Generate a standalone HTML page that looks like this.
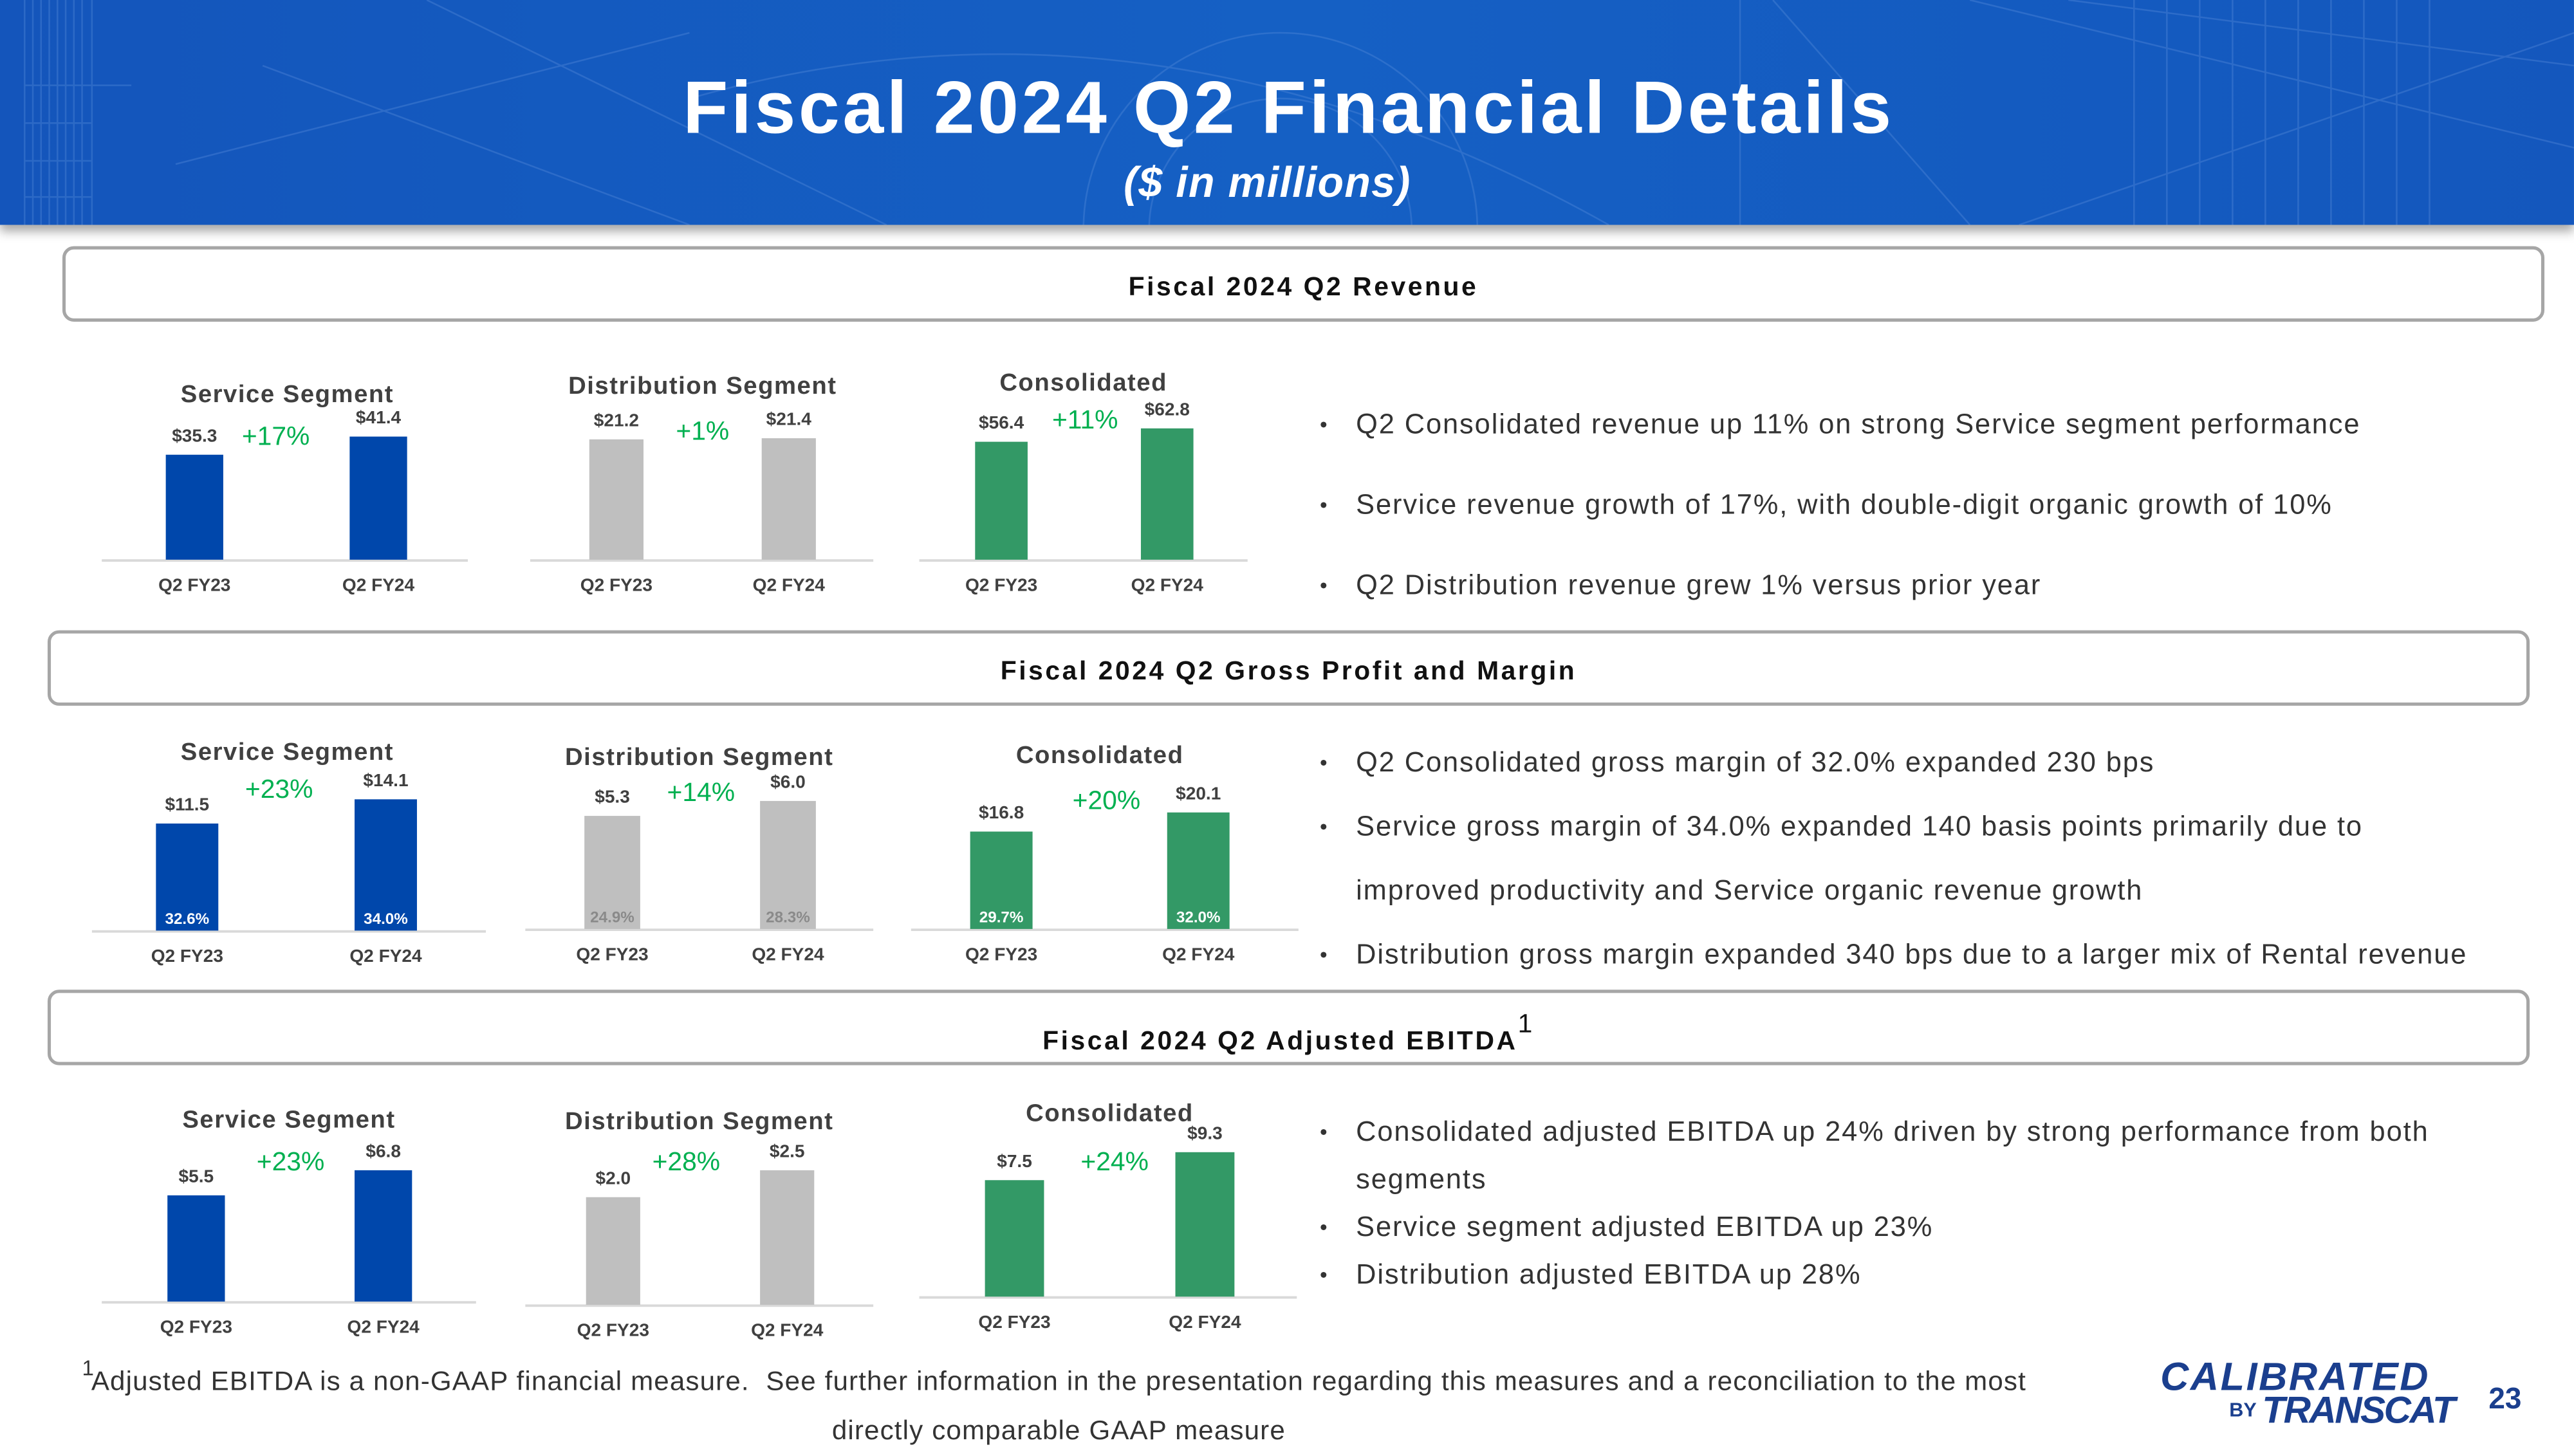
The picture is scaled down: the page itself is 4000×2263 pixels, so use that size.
<!DOCTYPE html>
<html><head><meta charset="utf-8"><style>
html,body{margin:0;padding:0;width:4000px;height:2250px;overflow:hidden;background:#fff}
#s{position:absolute;left:0;top:0;width:1568px;height:882px;transform:scale(2.5510);transform-origin:0 0;font-family:"Liberation Sans",sans-serif;color:#3a3a3a}
.abs{position:absolute}
.box{position:absolute;border:2px solid #a6a6a6;border-radius:7px;background:#fff;box-sizing:border-box;text-align:center;font-weight:bold;font-size:16px;color:#111;letter-spacing:1.4px}
.bul{position:absolute;font-size:17px;letter-spacing:0.75px;color:#333;white-space:nowrap}
.bul:before{content:"•";position:absolute;left:-22px;font-size:13px;top:2px}
.bul.nb:before{content:none}
</style></head><body>
<div id="s">
<div class="abs" style="left:0;top:0;width:1568px;height:137px;background:linear-gradient(90deg,#1455bb,#1560c4 50%,#1457bd);box-shadow:0 4px 6px rgba(0,0,0,.35)">
<svg width="1568" height="137" style="position:absolute;left:0;top:0">
<g stroke="#5b8fdc" stroke-width="1" opacity=".35" fill="none">
<path d="M15 0V137M20 0V137M25 0V137M30 0V137M35 0V137M40 0V137M45 0V137M50 0V137M56 0V137"/>
<path d="M15 52H80M15 75H56M15 98H56M15 120H56"/>
<path d="M107 100L420 20M160 40L420 137M260 0L540 137M420 60Q700 -20 980 137"/>
<path d="M1060 0V137M1080 0L1200 137M1200 0L1568 90M1260 0L1568 40M1230 137L1568 20M1300 0V137M1320 0V137M1340 0V137M1360 0V137M1380 0V137M1400 0V137M1420 0V137M1440 0V137M1460 0V137M1480 0V137"/>
<circle cx="780" cy="140" r="120"/><circle cx="780" cy="140" r="80"/>
</g></svg>
<div class="abs" style="left:0;width:1570px;top:40px;text-align:center;color:#fff;font-weight:bold;font-size:45px;letter-spacing:1.8px">Fiscal 2024 Q2 Financial Details</div>
<div class="abs" style="left:0;width:1544px;top:96px;text-align:center;color:#fff;font-weight:bold;font-style:italic;font-size:26px;letter-spacing:0.5px">($ in millions)</div>
</div>

<div class="box" style="left:38px;top:150px;width:1512px;height:46px;line-height:48px">Fiscal 2024 Q2 Revenue</div>
<div class="box" style="left:29px;top:384px;width:1512px;height:46px;line-height:48px">Fiscal 2024 Q2 Gross Profit and Margin</div>
<div class="box" style="left:29px;top:603px;width:1512px;height:46px;line-height:48px">Fiscal 2024 Q2 Adjusted EBITDA<sup style="font-weight:normal;font-size:16px;position:relative;top:-4px">1</sup></div>

<div class="bul" style="left:826px;top:249px">Q2 Consolidated revenue up 11% on strong Service segment performance</div>
<div class="bul" style="left:826px;top:298px">Service revenue growth of 17%, with double-digit organic growth of 10%</div>
<div class="bul" style="left:826px;top:347px">Q2 Distribution revenue grew 1% versus prior year</div>
<div class="bul" style="left:826px;top:455px">Q2 Consolidated gross margin of 32.0% expanded 230 bps</div>
<div class="bul" style="left:826px;top:494px">Service gross margin of 34.0% expanded 140 basis points primarily due to</div>
<div class="bul nb" style="left:826px;top:533px">improved productivity and Service organic revenue growth</div>
<div class="bul" style="left:826px;top:572px">Distribution gross margin expanded 340 bps due to a larger mix of Rental revenue</div>
<div class="bul" style="left:826px;top:680px">Consolidated adjusted EBITDA up 24% driven by strong performance from both</div>
<div class="bul nb" style="left:826px;top:709px">segments</div>
<div class="bul" style="left:826px;top:738px">Service segment adjusted EBITDA up 23%</div>
<div class="bul" style="left:826px;top:767px">Distribution adjusted EBITDA up 28%</div>

<div class="abs" style="left:30px;top:827px;width:1230px;text-align:center;font-size:16.5px;letter-spacing:0.45px;line-height:30px;color:#333"><sup style="position:absolute;left:20px;top:-8px;font-size:13px">1</sup>Adjusted EBITDA is a non-GAAP financial measure.&nbsp; See further information in the presentation regarding this measures and a reconciliation to the most directly comparable GAAP measure</div>
<div class="abs" style="left:1316px;top:826px;width:180px;color:#1b3f8e;font-weight:bold">
<div style="font-size:24px;letter-spacing:1px;font-style:italic">CALIBRATED</div>
<div style="position:absolute;left:42px;top:26px;font-size:12px">BY</div>
<div style="position:absolute;left:62px;top:20px;font-size:23px;font-style:italic;letter-spacing:-1px">TRANSCAT</div>
</div>
<div class="abs" style="left:1516px;top:842px;font-size:18px;font-weight:bold;color:#1b3f8e">23</div>

<svg id="charts" width="1568" height="882" style="position:absolute;left:0;top:0"></svg>
</div>
<script>
const categories = ['Q2 FY23','Q2 FY24'];
const chartTitles = ['Service Segment','Distribution Segment','Consolidated'];
const revenueService = [35.3, 41.4];
const revenueDistribution = [21.2, 21.4];
const revenueConsolidated = [56.4, 62.8];
const grossService = [11.5, 14.1];
const grossDistribution = [5.3, 6.0];
const grossConsolidated = [16.8, 20.1];
const marginService = ['32.6%','34.0%'];
const marginDistribution = ['24.9%','28.3%'];
const marginConsolidated = ['29.7%','32.0%'];
const ebitdaService = [5.5, 6.8];
const ebitdaDistribution = [2.0, 2.5];
const ebitdaConsolidated = [7.5, 9.3];
const growthRevenue = ['+17%','+1%','+11%'];
const growthGross = ['+23%','+14%','+20%'];
const growthEbitda = ['+23%','+28%','+24%'];

const NS='http://www.w3.org/2000/svg';
const svg=document.getElementById('charts');
function el(t,a,txt){const e=document.createElementNS(NS,t);for(const k in a)e.setAttribute(k,a[k]);if(txt!==undefined)e.textContent=txt;svg.appendChild(e);return e;}
const layouts=[
 {vals:revenueService,margins:null,growth:growthRevenue[0],title:0,color:'#0047ab',bx:[101,213],bw:35,base:341,ppu:75/41.4,ax:[62,285],ty:240,tx:175,gx:168,gy:265},
 {vals:revenueDistribution,margins:null,growth:growthRevenue[1],title:1,color:'#bfbfbf',bx:[359,464],bw:33,base:341,ppu:74/21.4,ax:[323,532],ty:235,tx:428,gx:428,gy:262},
 {vals:revenueConsolidated,margins:null,growth:growthRevenue[2],title:2,color:'#339966',bx:[594,695],bw:32,base:341,ppu:80/62.8,ax:[560,760],ty:233,tx:660,gx:661,gy:255},
 {vals:grossService,margins:marginService,growth:growthGross[0],title:0,color:'#0047ab',bx:[95,216],bw:38,base:567,ppu:80/14.1,ax:[56,296],ty:458,tx:175,gx:170,gy:480,mc:'#fff'},
 {vals:grossDistribution,margins:marginDistribution,growth:growthGross[1],title:1,color:'#bfbfbf',bx:[356,463],bw:34,base:566,ppu:78/6.0,ax:[320,532],ty:461,tx:426,gx:427,gy:482,mc:'#8a8a8a'},
 {vals:grossConsolidated,margins:marginConsolidated,growth:growthGross[2],title:2,color:'#339966',bx:[591,711],bw:38,base:566,ppu:71/20.1,ax:[555,791],ty:460,tx:670,gx:674,gy:487,mc:'#fff'},
 {vals:ebitdaService,margins:null,growth:growthEbitda[0],title:0,color:'#0047ab',bx:[102,216],bw:35,base:793,ppu:80/6.8,ax:[62,290],ty:682,tx:176,gx:177,gy:707},
 {vals:ebitdaDistribution,margins:null,growth:growthEbitda[1],title:1,color:'#bfbfbf',bx:[357,463],bw:33,base:795,ppu:82/2.5,ax:[320,532],ty:683,tx:426,gx:418,gy:707},
 {vals:ebitdaConsolidated,margins:null,growth:growthEbitda[2],title:2,color:'#339966',bx:[600,716],bw:36,base:790,ppu:88/9.3,ax:[560,790],ty:678,tx:676,gx:679,gy:707}
];
layouts.forEach((L,ci)=>{
  const y=v=>L.base-v*L.ppu;
  const t=el('text',{x:L.tx,y:L.ty+5,'text-anchor':'middle','font-size':15,'font-weight':'bold','letter-spacing':0.6,fill:'#404040','font-family':'Liberation Sans, sans-serif'},chartTitles[L.title]);
  
  
  const ax=el('line',{x1:L.ax[0],x2:L.ax[1],y1:L.base+0.5,y2:L.base+0.5,stroke:'#d9d9d9','stroke-width':1.5});
  
  
  L.vals.forEach((v,i)=>{
    const x=L.bx[i],top=y(v);
    const r=el('rect',{x:x,y:top,width:L.bw,height:L.base-top,fill:L.color});
    
    
    const vl=el('text',{x:x+L.bw/2,y:top-8,'text-anchor':'middle','font-size':11,'font-weight':'bold',fill:'#404040','font-family':'Liberation Sans, sans-serif'},'$'+v.toFixed(1));
    
    
    const cl=el('text',{x:x+L.bw/2,y:L.base+19,'text-anchor':'middle','font-size':11,'font-weight':'bold',fill:'#404040','font-family':'Liberation Sans, sans-serif'},categories[i]);
    
    
    if(L.margins){
      const ml=el('text',{x:x+L.bw/2,y:L.base-4,'text-anchor':'middle','font-size':9.5,'font-weight':'bold',fill:L.mc,'font-family':'Liberation Sans, sans-serif'},L.margins[i]);
      
      
    }
  });
  const g=el('text',{x:L.gx,y:L.gy+6,'text-anchor':'middle','font-size':16,fill:'#00b050','font-family':'Liberation Sans, sans-serif'},L.growth);
  
  
});
</script>
</body></html>
